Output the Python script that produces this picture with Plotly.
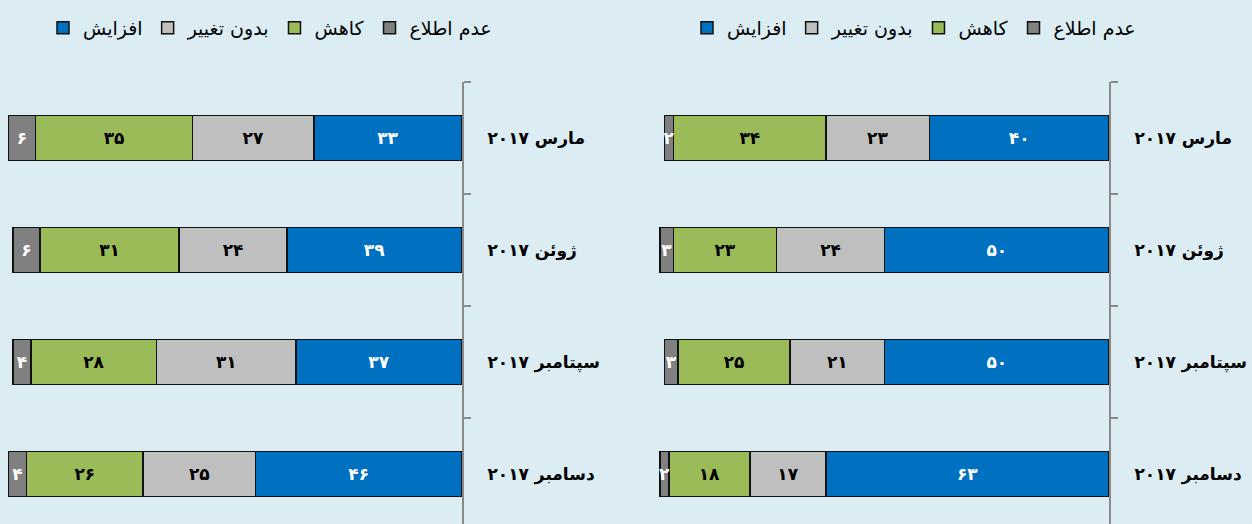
import plotly.graph_objects as go

categories = ["مارس ۲۰۱۷", "ژوئن ۲۰۱۷", "سپتامبر ۲۰۱۷", "دسامبر ۲۰۱۷"]
series_names = ["افزایش", "بدون تغییر", "کاهش", "عدم اطلاع"]

left_increase = [33, 39, 37, 46]
left_nochange = [27, 24, 31, 25]
left_decrease = [35, 31, 28, 26]
left_unknown = [6, 6, 4, 4]

right_increase = [40, 50, 50, 63]
right_nochange = [23, 24, 21, 17]
right_decrease = [34, 23, 25, 18]
right_unknown = [2, 3, 3, 2]

colors = ["#0070C0", "#BFBFBF", "#9BBB59", "#808080"]
text_colors = ["white", "black", "black", "white"]

FONT = "DejaVu Sans"
W, H = 1252, 524
TOP = 82
BG = "#DBEDF3"

_pd = str.maketrans("0123456789", "۰۱۲۳۴۵۶۷۸۹")


def fa(v):
    return str(v).translate(_pd)


fig = go.Figure()

panels = [
    ("x", "y", "legend", [left_increase, left_nochange, left_decrease, left_unknown]),
    ("x2", "y2", "legend2", [right_increase, right_nochange, right_decrease, right_unknown]),
]

for xa, ya, lg, series in panels:
    for name, vals, c, tc in zip(series_names, series, colors, text_colors):
        fig.add_trace(go.Bar(
            y=categories, x=vals, orientation="h", name=name,
            xaxis=xa, yaxis=ya, legend=lg,
            marker=dict(color=c, line=dict(color="#111111", width=1.5)),
            width=0.4,
            text=[fa(v) for v in vals], textposition="inside",
            insidetextanchor="middle", textangle=0,
            textfont=dict(family=FONT, size=17, color=tc, weight="bold"),
            hoverinfo="skip",
        ))

scale = 4.49
xr = 102
wpx = xr * scale
left_end = 462
right_end = 1109

yrange = [-0.5 + (H - TOP) / 112.0, -0.5]

common_y = dict(
    type="category", categoryorder="array", categoryarray=categories,
    range=yrange, side="right", showline=True, linecolor="#8A8A8A", linewidth=2,
    ticks="outside", tickson="boundaries", ticklen=7, tickwidth=1.5, tickcolor="#8A8A8A",
    ticklabelstandoff=20, showgrid=False, zeroline=False,
    tickfont=dict(family=FONT, size=17, color="black", weight="bold"),
)

fig.update_layout(
    width=W, height=H,
    margin=dict(l=0, r=0, t=TOP, b=0),
    paper_bgcolor=BG, plot_bgcolor=BG,
    barmode="stack", showlegend=True,
    uniformtext=dict(minsize=17, mode="show"),
    xaxis=dict(domain=[(left_end - wpx) / W, left_end / W], range=[xr, 0], visible=False, fixedrange=True),
    xaxis2=dict(domain=[(right_end - wpx) / W, right_end / W], range=[xr, 0], visible=False, fixedrange=True),
    yaxis=dict(anchor="x", **common_y),
    yaxis2=dict(anchor="x2", **common_y),
    legend=dict(orientation="h", x=43 / W, xanchor="left", y=(H - 28) / (H - TOP), yanchor="middle",
                font=dict(family=FONT, size=19, color="black"), bgcolor="rgba(0,0,0,0)",
                traceorder="normal"),
    legend2=dict(orientation="h", x=687 / W, xanchor="left", y=(H - 28) / (H - TOP), yanchor="middle",
                 font=dict(family=FONT, size=19, color="black"), bgcolor="rgba(0,0,0,0)",
                 traceorder="normal"),
)

fig.write_html(
    "out.html",
    config={"displayModeBar": False},
    post_script="document.body.style.margin='0';document.body.style.background='" + BG + "';",
)
